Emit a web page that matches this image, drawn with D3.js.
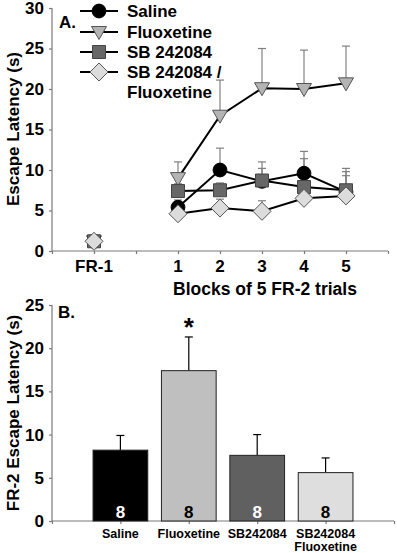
<!DOCTYPE html>
<html><head><meta charset="utf-8">
<script src="https://cdn.jsdelivr.net/npm/d3@7"></script>
<style>body{margin:0;background:#fff}svg{display:block}text{font-family:Arial,"Liberation Sans",sans-serif;font-weight:bold}</style>
</head><body>
<script>
// ---- Panel A data ----
const xPositions = [1, 3, 4, 5, 6, 7];            // FR-1, blocks 1..5
const xTickLabels = ["FR-1", "1", "2", "3", "4", "5"];
const seriesNames = ["Saline", "Fluoxetine", "SB 242084", "SB 242084 /|Fluoxetine"];
const salineVals = [1.2, 5.4, 10.0, 8.6, 9.6, 7.3];
const salineErr  = [2.0, 6.3, 12.7, 10.2, 12.3, 10.2];
const fluoxVals  = [1.2, 9.0, 16.7, 20.1, 20.0, 20.7];
const fluoxErr   = [2.0, 11.0, 21.1, 25.0, 24.8, 25.3];
const sbVals     = [1.2, 7.4, 7.5, 8.7, 7.9, 7.5];
const sbErr      = [2.0, 8.3, 8.4, 11.0, 11.4, 9.8];
const sbfVals    = [1.2, 4.6, 5.3, 4.9, 6.5, 6.8];
const sbfErr     = [2.0, 5.4, 6.4, 6.2, 7.4, 9.3];
const yTicksA = [0, 5, 10, 15, 20, 25, 30];

// ---- Panel B data ----
const barCats = ["Saline", "Fluoxetine", "SB242084", "SB242084|Fluoxetine"];
const barVals = [8.2, 17.4, 7.6, 5.6];
const barErr  = [9.9, 21.3, 10.0, 7.3];
const barN    = [8, 8, 8, 8];
const yTicksB = [0, 5, 10, 15, 20, 25];

const W = 397, H = 553;
const svg = d3.select("body").append("svg").attr("width", W).attr("height", H);
const axisCol = "#7a7a7a";
const FS = 17;

// ================= Panel A =================
const xA = d3.scaleLinear().domain([0, 8]).range([52, 388]);
const yA = d3.scaleLinear().domain([0, 30]).range([251, 8]);

const gA = svg.append("g");
const yAxA = gA.append("g").attr("transform", "translate(52,0)")
  .call(d3.axisLeft(yA).tickValues(yTicksA).tickSize(3).tickPadding(5));
const xAxA = gA.append("g").attr("transform", "translate(0,251)")
  .call(d3.axisBottom(xA).tickValues(d3.range(0, 9)).tickSize(3).tickFormat(""));
[yAxA, xAxA].forEach(a => a.selectAll("path,line").attr("stroke", axisCol).attr("stroke-width", 1.2));
yAxA.select(".domain").attr("d", "M0,8V251");
xAxA.select(".domain").attr("d", "M52,0H388");
yAxA.selectAll("text").attr("font-size", FS).attr("fill", "#000")
  .attr("font-family", "Arial, 'Liberation Sans'").attr("font-weight", "bold");
gA.selectAll("text.xl").data(xPositions).join("text").attr("class", "xl")
  .attr("x", d => xA(d)).attr("y", 272).attr("text-anchor", "middle")
  .attr("font-size", FS).text((d, i) => xTickLabels[i]);

gA.append("text").attr("x", 265).attr("y", 295).attr("text-anchor", "middle")
  .attr("font-size", 17.5).text("Blocks of 5 FR-2 trials");
gA.append("text").attr("transform", "translate(19,129) rotate(-90)")
  .attr("text-anchor", "middle").attr("font-size", FS).text("Escape Latency (s)");
gA.append("text").attr("x", 59).attr("y", 28).attr("font-size", FS).text("A.");

const series = [
  {name: seriesNames[0], vals: salineVals, err: salineErr, shape: "circle", fill: "#000", stroke: "#000"},
  {name: seriesNames[1], vals: fluoxVals, err: fluoxErr, shape: "triangle", fill: "#b4b4b4", stroke: "#555"},
  {name: seriesNames[2], vals: sbVals, err: sbErr, shape: "square", fill: "#676767", stroke: "#444"},
  {name: seriesNames[3], vals: sbfVals, err: sbfErr, shape: "diamond", fill: "#dcdcdc", stroke: "#555"}
];
function markerPath(shape) {
  if (shape === "circle") return d3.symbol(d3.symbolCircle, 150)();
  if (shape === "square") return "M-6.5,-6.5H6.5V6.5H-6.5Z";
  if (shape === "triangle") return "M-7.5,-5.5H7.5L0,7.5Z";
  return "M0,-9L9,0L0,9L-9,0Z";
}
series.forEach(s => {
  const g = gA.append("g");
  xPositions.forEach((x, i) => {
    g.append("line").attr("x1", xA(x)).attr("x2", xA(x)).attr("y1", yA(s.vals[i])).attr("y2", yA(s.err[i]))
      .attr("stroke", "#808080").attr("stroke-width", 1.2);
    g.append("line").attr("x1", xA(x) - 4).attr("x2", xA(x) + 4).attr("y1", yA(s.err[i])).attr("y2", yA(s.err[i]))
      .attr("stroke", "#808080").attr("stroke-width", 1.2);
  });
});
const line = d3.line().x(d => xA(d[0])).y(d => yA(d[1]));
series.forEach(s => {
  const pts = xPositions.slice(1).map((x, i) => [x, s.vals[i + 1]]);
  gA.append("path").attr("d", line(pts)).attr("fill", "none").attr("stroke", "#000").attr("stroke-width", 2);
});
series.forEach(s => {
  gA.append("g").selectAll("path").data(xPositions).join("path")
    .attr("transform", (x, i) => `translate(${xA(x)},${yA(s.vals[i])})`)
    .attr("d", markerPath(s.shape)).attr("fill", s.fill).attr("stroke", s.stroke).attr("stroke-width", 1);
});
const legY = [11, 32, 52, 72];
series.forEach((s, i) => {
  const y = legY[i];
  gA.append("line").attr("x1", 80).attr("x2", 118).attr("y1", y).attr("y2", y).attr("stroke", "#000").attr("stroke-width", 2);
  gA.append("path").attr("transform", `translate(99,${y})`).attr("d", markerPath(s.shape))
    .attr("fill", s.fill).attr("stroke", s.stroke).attr("stroke-width", 1);
  s.name.split("|").forEach((t, j) => {
    gA.append("text").attr("x", 127).attr("y", y + 6 + j * 20).attr("font-size", FS).text(t);
  });
});

// ================= Panel B =================
const xB = d3.scaleLinear().domain([0, 5]).range([52, 394]);
const yB = d3.scaleLinear().domain([0, 25]).range([521, 305]);
const gB = svg.append("g");
const yAxB = gB.append("g").attr("transform", "translate(52,0)")
  .call(d3.axisLeft(yB).tickValues(yTicksB).tickSize(3).tickPadding(5));
const xAxB = gB.append("g").attr("transform", "translate(0,521)")
  .call(d3.axisBottom(xB).tickValues(d3.range(0, 6)).tickSize(3).tickFormat(""));
yAxB.selectAll("path,line").attr("stroke", axisCol).attr("stroke-width", 1.2);
xAxB.selectAll("path,line").attr("stroke", axisCol).attr("stroke-width", 1.2);
yAxB.select(".domain").attr("d", "M0,305V521");
xAxB.select(".domain").attr("d", "M52,0H394");
yAxB.selectAll("text").attr("font-size", FS).attr("fill", "#000")
  .attr("font-family", "Arial, 'Liberation Sans'").attr("font-weight", "bold");

gB.append("text").attr("transform", "translate(19,413) rotate(-90)")
  .attr("text-anchor", "middle").attr("font-size", FS).text("FR-2 Escape Latency (s)");
gB.append("text").attr("x", 58).attr("y", 318).attr("font-size", FS).text("B.");

const barFill = ["#000000", "#bfbfbf", "#606060", "#dedede"];
const nFill = ["#fff", "#000", "#fff", "#000"];
const bw = xB(0.8) - xB(0);
barCats.forEach((c, i) => {
  const cx = xB(i + 1);
  gB.append("line").attr("x1", cx).attr("x2", cx).attr("y1", yB(barVals[i])).attr("y2", yB(barErr[i]))
    .attr("stroke", "#000").attr("stroke-width", 1.2);
  gB.append("line").attr("x1", cx - 4).attr("x2", cx + 4).attr("y1", yB(barErr[i])).attr("y2", yB(barErr[i]))
    .attr("stroke", "#000").attr("stroke-width", 1.2);
  gB.append("rect").attr("x", cx - bw / 2).attr("y", yB(barVals[i])).attr("width", bw)
    .attr("height", yB(0) - yB(barVals[i])).attr("fill", barFill[i]).attr("stroke", "#222").attr("stroke-width", 1);
  gB.append("text").attr("x", cx).attr("y", 518).attr("text-anchor", "middle").attr("font-size", FS)
    .attr("fill", nFill[i]).text(barN[i]);
  c.split("|").forEach((t, j) => {
    gB.append("text").attr("x", cx).attr("y", 538 + j * 13).attr("text-anchor", "middle")
      .attr("font-size", 12.5).text(t);
  });
});
gB.append("text").attr("x", xB(2)).attr("y", 336).attr("text-anchor", "middle").attr("font-size", 26).text("*");
</script>
</body></html>
